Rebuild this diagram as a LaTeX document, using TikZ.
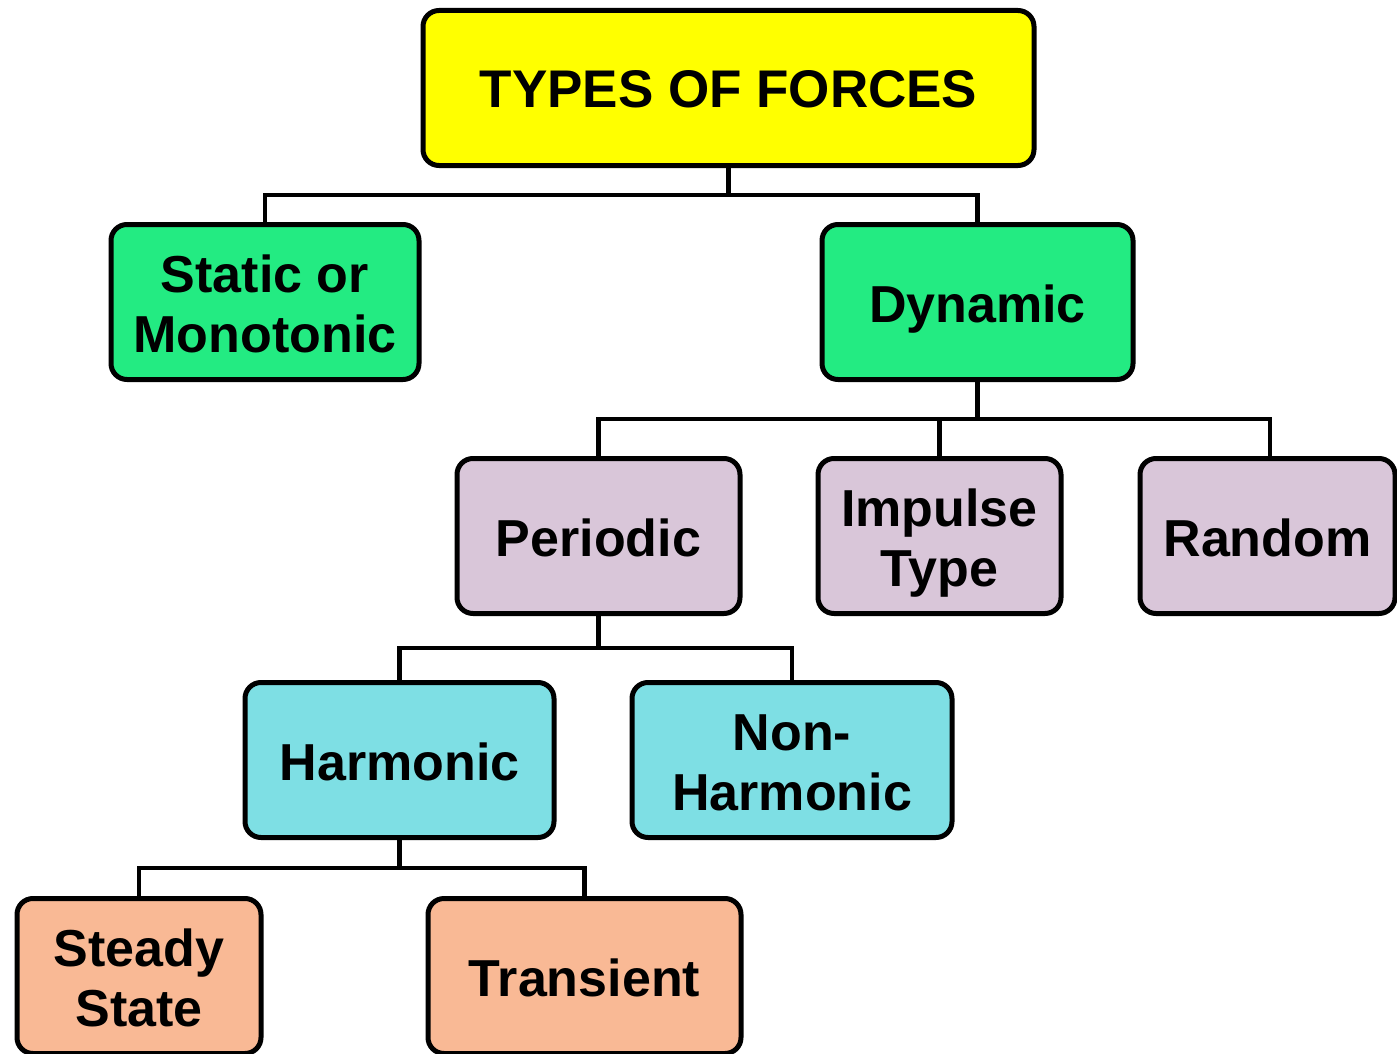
\documentclass[tikz,border=0pt]{standalone}
\usepackage{fontspec}
\setmainfont{Liberation Sans}
\newcommand{\tx}[1]{\raisebox{-8pt}[\height][\depth]{\begin{tabular}{@{}c@{}}#1\end{tabular}}}
\begin{document}
\begin{tikzpicture}[x=1pt,y=-1pt,
  box/.style={draw=black, line width=5pt, rounded corners=16pt, align=center,
    inner sep=0pt, minimum height=155pt,
    font=\fontsize{52}{60}\selectfont\bfseries, text=black},
  conn/.style={draw=black, line width=4.5pt},
  ]
\definecolor{cyel}{RGB}{255,255,0}
\definecolor{cgrn}{RGB}{35,235,130}
\definecolor{clil}{RGB}{217,198,217}
\definecolor{ccya}{RGB}{126,223,228}
\definecolor{cpch}{RGB}{249,185,149}
\useasboundingbox (0,0) rectangle (1397,1054);
\clip (0,0) rectangle (1397,1054);
\node[box, fill=cyel, minimum width=611pt, font=\fontsize{53}{60}\selectfont\bfseries] (title) at (728.5,88) {\tx{TYPES OF FORCES}};
\node[box, fill=cgrn, minimum width=308pt] (static) at (265,302) {\tx{Static or\\Monotonic}};
\node[box, fill=cgrn, minimum width=311pt] (dynamic) at (977.5,302) {\tx{Dynamic}};
\node[box, fill=clil, minimum width=283pt] (periodic) at (598.5,536) {\tx{Periodic}};
\node[box, fill=clil, minimum width=243pt] (impulse) at (939.5,536) {\tx{Impulse\\Type}};
\node[box, fill=clil, minimum width=255pt] (random) at (1267.5,536) {\tx{Random}};
\node[box, fill=ccya, minimum width=309pt] (harmonic) at (399.5,760) {\tx{Harmonic}};
\node[box, fill=ccya, minimum width=320pt] (nonharm) at (792,760) {\tx{Non-\\Harmonic}};
\node[box, fill=cpch, minimum width=244pt] (steady) at (139,976) {\tx{Steady\\State}};
\node[box, fill=cpch, minimum width=313pt] (transient) at (584.5,976) {\tx{Transient}};
% connectors
\draw[conn] (title.south) -- ++(0,27) coordinate (b1) -| (static.north);
\draw[conn] (b1) -| (dynamic.north);
\draw[conn] (dynamic.south) -- ++(0,37) coordinate (b2) -| (periodic.north);
\draw[conn] (b2) -| (impulse.north);
\draw[conn] (b2) -| ([xshift=2.5pt]random.north);
\draw[conn] (periodic.south) -- ++(0,32) coordinate (b3) -| (harmonic.north);
\draw[conn] (b3) -| (nonharm.north);
\draw[conn] (harmonic.south) -- ++(0,28) coordinate (b4) -| (steady.north);
\draw[conn] (b4) -| (transient.north);
\end{tikzpicture}
\end{document}
